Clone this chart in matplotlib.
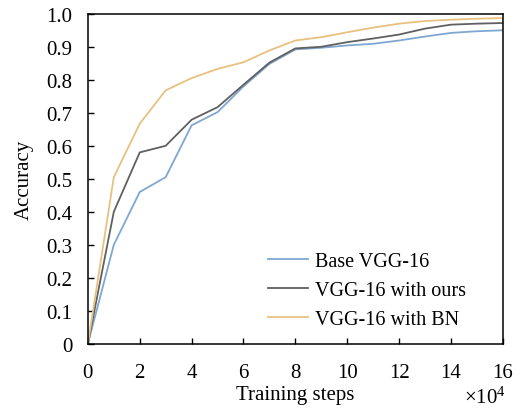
import numpy as np
import matplotlib
matplotlib.use("Agg")
import matplotlib.pyplot as plt

plt.rcParams["font.family"] = ["Liberation Serif", "DejaVu Serif"]
plt.rcParams["mathtext.fontset"] = "custom"
plt.rcParams["mathtext.rm"] = "Liberation Serif"

# training steps in units of 1e4
steps = np.arange(0, 17)

acc_base = [0.0, 0.30, 0.46, 0.505, 0.662, 0.702, 0.78, 0.848, 0.892, 0.897,
            0.904, 0.909, 0.919, 0.931, 0.942, 0.947, 0.95]
acc_ours = [0.0, 0.40, 0.58, 0.60, 0.679, 0.717, 0.785, 0.852, 0.895, 0.90,
            0.914, 0.925, 0.937, 0.955, 0.967, 0.97, 0.972]
acc_bn = [0.0, 0.505, 0.667, 0.768, 0.805, 0.833, 0.853, 0.889, 0.919, 0.929,
          0.944, 0.958, 0.97, 0.978, 0.982, 0.985, 0.987]

labels = ["Base VGG-16", "VGG-16 with ours", "VGG-16 with BN"]
colors = ["#7fa7d2", "#606060", "#e8c17f"]

fig = plt.figure(figsize=(5.2, 4.1), dpi=100)
ax = fig.add_axes([0.169, 0.159, 0.798, 0.805])

for series, lab, c in zip([acc_base, acc_ours, acc_bn], labels, colors):
    ax.plot(steps, series, color=c, lw=1.3, label=lab)

ax.set_xlim(0, 16)
ax.set_ylim(0, 1.0)
ax.set_xticks(np.arange(0, 17, 2))
ax.set_yticks(np.arange(0, 1.01, 0.1))
ax.set_yticklabels(["0"] + [f"{v:.1f}" for v in np.arange(0.1, 1.01, 0.1)])
ax.tick_params(direction="in", length=4, width=1, labelsize=15)
ax.tick_params(axis="x", pad=14)
ax.tick_params(axis="y", pad=11)
for s in ax.spines.values():
    s.set_linewidth(1.1)

ax.set_xlabel("Training steps", fontsize=15, labelpad=2)
ax.set_ylabel("Accuracy", fontsize=15, labelpad=9)
fig.text(0.972, 0.014, r"$\times\mathregular{10^4}$", fontsize=15, ha="right")

ax.legend(loc="lower right", frameon=False, fontsize=14.5, handlelength=2.0,
          handletextpad=0.35, labelspacing=0.5, bbox_to_anchor=(0.955, -0.01))

fig.savefig("out.png", dpi=100)
